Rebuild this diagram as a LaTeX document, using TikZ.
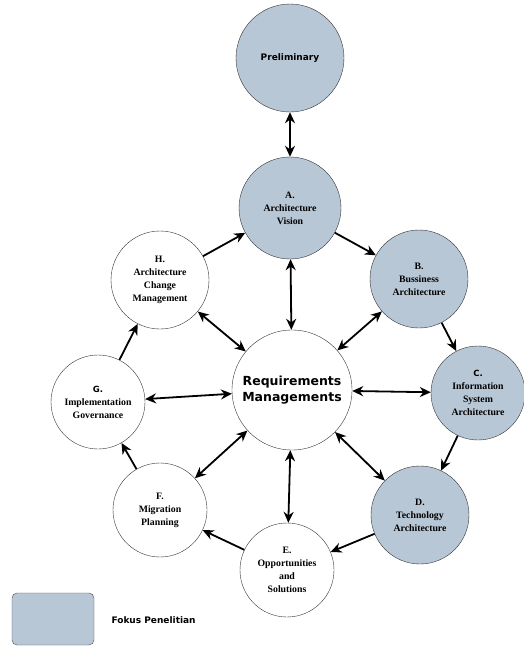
\documentclass[tikz,border=0pt]{standalone}
\usepackage{fontspec}
\setmainfont{Liberation Serif}
\newfontfamily\comicfont{DejaVu Sans}
\usetikzlibrary{arrows.meta}

\definecolor{fokus}{RGB}{184,199,214}

\tikzset{
  phase/.style = {circle, draw = black!80, thin, minimum size = 98pt, inner sep = 0pt,
                  align = center, font = \bfseries\fontsize{9.8}{13}\selectfont},
  focus/.style = {phase, fill = fokus},
  link/.style  = {line width = 1.8pt, -{Stealth[length = 11pt, width = 10pt]}},
  both/.style  = {line width = 1.8pt, {Stealth[length = 11pt, width = 10pt]}-{Stealth[length = 11pt, width = 10pt]}}
}

\begin{document}
\begin{tikzpicture}[x = 1pt, y = -1pt]
            \useasboundingbox (0,0) rectangle (523,646);

            \node[focus, minimum size = 108pt] (prelim) at (290,58)
                {\comicfont\bfseries\fontsize{9}{11}\selectfont Preliminary};
            \node[focus, minimum size = 102pt] (vision) at (290,208)
                {A.\\Architecture\\Vision};
            \node[focus] (business) at (419,279)
                {B.\\Bussiness\\Architecture};
            \node[focus, minimum size = 94pt] (infosys) at (478,393)
                {{\comicfont\fontsize{8.5}{10}\selectfont C.}\\Information\\System\\Architecture};
            \node[focus] (techno) at (420,515)
                {D.\\Technology\\Architecture};
            \node[phase, minimum size = 94pt] (opport) at (287,570)
                {E.\\Opportunities\\and\\Solutions};
            \node[phase, minimum size = 94pt] (migration) at (160,510)
                {F.\\Migration\\Planning};
            \node[phase, minimum size = 94pt] (governance) at (98,402)
                {{\comicfont\fontsize{8.5}{10}\selectfont G.}\\Implementation\\Governance};
            \node[phase] (change) at (160,280)
                {H.\\Architecture\\Change\\Management};

            \node[circle, draw = black!80, thin, minimum size = 120pt, align = center,
                  font = \comicfont\bfseries\fontsize{12.5}{16}\selectfont] (reqman) at (292,390)
                {Requirements\\Managements};

            % preliminary to vision
            \draw[both] (prelim) -- (vision);

            % the cycle
            \draw[link] (vision) -- (business);
            \draw[link] (business) -- (infosys);
            \draw[link] (infosys) -- (techno);
            \draw[link] (techno) -- (opport);
            \draw[link] (opport) -- (migration);
            \draw[link] (migration) -- (governance);
            \draw[link] (governance) -- (change);
            \draw[link] (change) -- (vision);

            % requirements to every phase
            \foreach \p in {vision, business, infosys, techno, opport, migration, governance, change}
                \draw[both] (reqman) -- (\p);

            % legend
            \node[draw = black!70, fill = fokus, rounded corners = 5pt, minimum width = 82pt,
                  minimum height = 52pt] (legend) at (53,619) {};
            \node[anchor = west, font = \comicfont\bfseries\fontsize{9}{11}\selectfont] (legendtext)
                at (108,620) {Fokus Penelitian};
\end{tikzpicture}
\end{document}
